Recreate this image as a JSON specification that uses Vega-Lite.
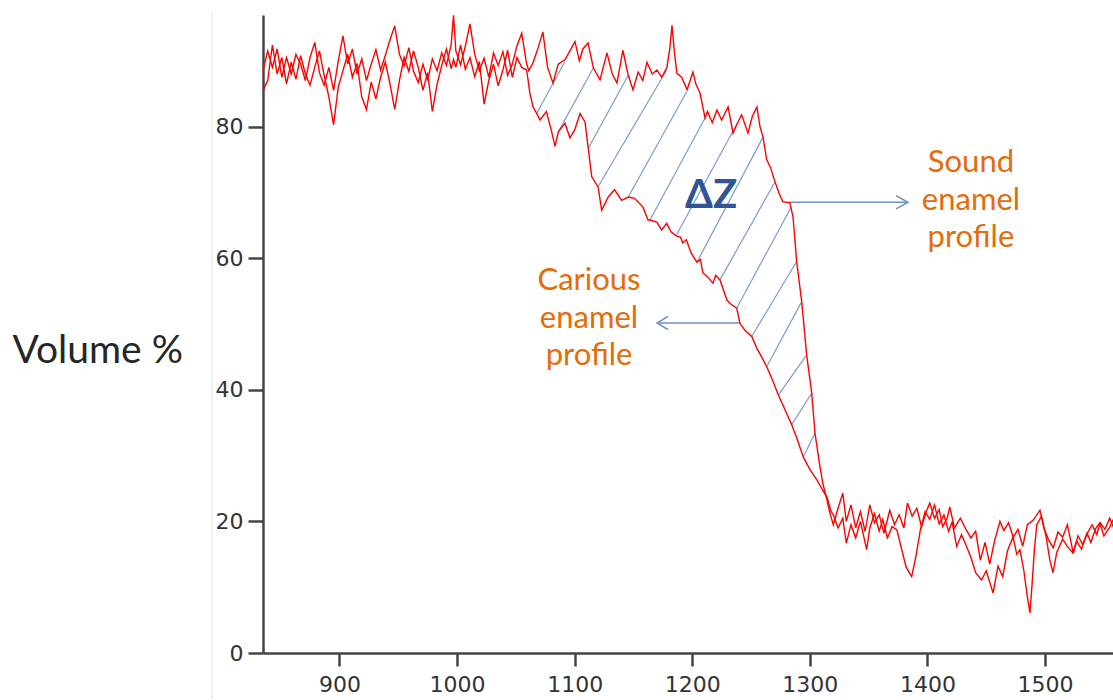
{
  "$schema": "https://vega.github.io/schema/vega-lite/v6.json",
  "width": 850,
  "height": 638,
  "autosize": {"type": "none"},
  "padding": {"left": 263, "top": 15, "right": 0, "bottom": 47},
  "background": "white",
  "config": {
    "view": {"stroke": null},
    "axis": {"domainColor": "#444444", "domainWidth": 2.5, "tickColor": "#444444", "tickWidth": 2.5, "labelColor": "#333333", "labelFont": "DejaVu Sans", "grid": false}
  },
  "datasets": {
    "curves": [
      {"x":835,"y":88.5,"k":"s"},{"x":839,"y":91.5,"k":"s"},{"x":843,"y":89,"k":"s"},{"x":847,"y":91.8,"k":"s"},{"x":851,"y":87.5,"k":"s"},{"x":855,"y":90.5,"k":"s"},{"x":859,"y":88,"k":"s"},{"x":863,"y":91,"k":"s"},{"x":867,"y":89.5,"k":"s"},{"x":871,"y":87,"k":"s"},{"x":875,"y":90.5,"k":"s"},{"x":879,"y":92.8,"k":"s"},{"x":883,"y":88.2,"k":"s"},{"x":887,"y":86.3,"k":"s"},{"x":891,"y":89,"k":"s"},{"x":895,"y":85.5,"k":"s"},{"x":899,"y":90,"k":"s"},{"x":903,"y":93.8,"k":"s"},{"x":907,"y":89.5,"k":"s"},{"x":911,"y":91.8,"k":"s"},{"x":915,"y":88,"k":"s"},{"x":919,"y":90.3,"k":"s"},{"x":923,"y":87,"k":"s"},{"x":927,"y":89.5,"k":"s"},{"x":931,"y":91.7,"k":"s"},{"x":935,"y":88.6,"k":"s"},{"x":939,"y":90.8,"k":"s"},{"x":943,"y":93.2,"k":"s"},{"x":947,"y":95.3,"k":"s"},{"x":951,"y":91,"k":"s"},{"x":955,"y":89.2,"k":"s"},{"x":959,"y":92,"k":"s"},{"x":963,"y":88.4,"k":"s"},{"x":967,"y":86.7,"k":"s"},{"x":971,"y":89.5,"k":"s"},{"x":975,"y":87,"k":"s"},{"x":979,"y":90.3,"k":"s"},{"x":983,"y":88.5,"k":"s"},{"x":987,"y":91.2,"k":"s"},{"x":991,"y":89.3,"k":"s"},{"x":995,"y":92.5,"k":"s"},{"x":997,"y":96.9,"k":"s"},{"x":999,"y":91.5,"k":"s"},{"x":1003,"y":89.4,"k":"s"},{"x":1007,"y":92.2,"k":"s"},{"x":1011,"y":95.6,"k":"s"},{"x":1015,"y":91,"k":"s"},{"x":1019,"y":88.5,"k":"s"},{"x":1023,"y":90.4,"k":"s"},{"x":1027,"y":87.5,"k":"s"},{"x":1031,"y":91.2,"k":"s"},{"x":1035,"y":89.3,"k":"s"},{"x":1039,"y":91.4,"k":"s"},{"x":1043,"y":87.8,"k":"s"},{"x":1047,"y":89.5,"k":"s"},{"x":1051,"y":92.3,"k":"s"},{"x":1055,"y":94.2,"k":"s"},{"x":1059,"y":89.7,"k":"s"},{"x":1061,"y":88.5,"k":"s"},{"x":1064.6,"y":89.7,"k":"s"},{"x":1069,"y":92,"k":"s"},{"x":1073,"y":94.4,"k":"s"},{"x":1077,"y":89,"k":"s"},{"x":1081.6,"y":86.6,"k":"s"},{"x":1086,"y":89.5,"k":"s"},{"x":1091.8,"y":90.2,"k":"s"},{"x":1096,"y":91.5,"k":"s"},{"x":1100.3,"y":92.9,"k":"s"},{"x":1104,"y":90,"k":"s"},{"x":1107,"y":91.8,"k":"s"},{"x":1111.4,"y":92.7,"k":"s"},{"x":1116,"y":88.9,"k":"s"},{"x":1121.6,"y":87.1,"k":"s"},{"x":1127.5,"y":91.2,"k":"s"},{"x":1132,"y":88,"k":"s"},{"x":1136,"y":86.6,"k":"s"},{"x":1141,"y":91.6,"k":"s"},{"x":1145.6,"y":87.8,"k":"s"},{"x":1149.6,"y":85.6,"k":"s"},{"x":1154,"y":88.3,"k":"s"},{"x":1158,"y":87,"k":"s"},{"x":1161.5,"y":89.8,"k":"s"},{"x":1166,"y":88,"k":"s"},{"x":1170,"y":88.6,"k":"s"},{"x":1174,"y":87.5,"k":"s"},{"x":1178.5,"y":89,"k":"s"},{"x":1181,"y":92,"k":"s"},{"x":1182.8,"y":95.4,"k":"s"},{"x":1185,"y":91,"k":"s"},{"x":1187,"y":88.1,"k":"s"},{"x":1191,"y":87.5,"k":"s"},{"x":1195.6,"y":85.6,"k":"s"},{"x":1200.6,"y":88.3,"k":"s"},{"x":1203,"y":86.5,"k":"s"},{"x":1206.6,"y":85.1,"k":"s"},{"x":1210.9,"y":81.3,"k":"s"},{"x":1213,"y":82.3,"k":"s"},{"x":1217,"y":80.6,"k":"s"},{"x":1221,"y":82.5,"k":"s"},{"x":1225,"y":81,"k":"s"},{"x":1230.5,"y":83,"k":"s"},{"x":1234.7,"y":79,"k":"s"},{"x":1238.9,"y":80.7,"k":"s"},{"x":1242,"y":81.8,"k":"s"},{"x":1247.4,"y":79,"k":"s"},{"x":1251,"y":81.5,"k":"s"},{"x":1255,"y":83,"k":"s"},{"x":1257.6,"y":80,"k":"s"},{"x":1260.2,"y":78.4,"k":"s"},{"x":1263.3,"y":75,"k":"s"},{"x":1266.5,"y":73.8,"k":"s"},{"x":1270.4,"y":71.6,"k":"s"},{"x":1274,"y":69.8,"k":"s"},{"x":1277,"y":68.6,"k":"s"},{"x":1283,"y":68.4,"k":"s"},{"x":1285.7,"y":66.3,"k":"s"},{"x":1288.8,"y":59.5,"k":"s"},{"x":1293.1,"y":53.4,"k":"s"},{"x":1297.3,"y":45.3,"k":"s"},{"x":1301.6,"y":39.5,"k":"s"},{"x":1304.4,"y":33.4,"k":"s"},{"x":1308,"y":29,"k":"s"},{"x":1311,"y":25.8,"k":"s"},{"x":1314,"y":23.7,"k":"s"},{"x":1317,"y":21.3,"k":"s"},
      {"x":1320,"y":19.5,"k":"s"},{"x":1324,"y":22,"k":"s"},{"x":1328,"y":24.3,"k":"s"},{"x":1331,"y":20,"k":"s"},{"x":1335,"y":22.5,"k":"s"},{"x":1339,"y":19,"k":"s"},{"x":1343,"y":21.5,"k":"s"},{"x":1347,"y":18.5,"k":"s"},{"x":1351,"y":22.5,"k":"s"},{"x":1355,"y":19.8,"k":"s"},{"x":1359,"y":21,"k":"s"},{"x":1363,"y":18.2,"k":"s"},{"x":1368,"y":21.7,"k":"s"},{"x":1372,"y":19.5,"k":"s"},{"x":1376,"y":21,"k":"s"},{"x":1380,"y":19,"k":"s"},{"x":1383,"y":22.8,"k":"s"},{"x":1387,"y":20.8,"k":"s"},{"x":1391,"y":22,"k":"s"},{"x":1395,"y":19.2,"k":"s"},{"x":1399,"y":21.5,"k":"s"},{"x":1402,"y":22.8,"k":"s"},{"x":1406,"y":20.5,"k":"s"},{"x":1410,"y":21.8,"k":"s"},{"x":1413,"y":19.2,"k":"s"},{"x":1417,"y":20.6,"k":"s"},{"x":1419,"y":22.2,"k":"s"},{"x":1423,"y":19,"k":"s"},{"x":1428,"y":20.5,"k":"s"},{"x":1433,"y":18.7,"k":"s"},{"x":1437,"y":17.5,"k":"s"},{"x":1441,"y":18.5,"k":"s"},{"x":1445,"y":14.1,"k":"s"},{"x":1449,"y":16.8,"k":"s"},{"x":1453,"y":13.5,"k":"s"},{"x":1457,"y":17,"k":"s"},{"x":1461.7,"y":20,"k":"s"},{"x":1465,"y":18.6,"k":"s"},{"x":1469,"y":19.8,"k":"s"},{"x":1473,"y":17.6,"k":"s"},{"x":1477,"y":18.8,"k":"s"},{"x":1481,"y":16.2,"k":"s"},{"x":1485,"y":19.5,"k":"s"},{"x":1490,"y":20.2,"k":"s"},{"x":1495.7,"y":21.7,"k":"s"},{"x":1499,"y":19,"k":"s"},{"x":1503,"y":17.2,"k":"s"},{"x":1507,"y":16,"k":"s"},{"x":1511,"y":18.4,"k":"s"},{"x":1515,"y":17.6,"k":"s"},{"x":1519,"y":19.5,"k":"s"},{"x":1524,"y":15.2,"k":"s"},{"x":1528,"y":17.8,"k":"s"},{"x":1532,"y":16.5,"k":"s"},{"x":1536,"y":18.2,"k":"s"},{"x":1540,"y":19.5,"k":"s"},{"x":1544,"y":18,"k":"s"},{"x":1547,"y":19.8,"k":"s"},{"x":1551,"y":18.8,"k":"s"},{"x":1555,"y":20.5,"k":"s"},{"x":1558,"y":19.2,"k":"s"},
      {"x":835,"y":85.5,"k":"c"},{"x":839,"y":87,"k":"c"},{"x":843,"y":92.4,"k":"c"},{"x":847,"y":88,"k":"c"},{"x":851,"y":90.5,"k":"c"},{"x":855,"y":86.5,"k":"c"},{"x":859,"y":89.8,"k":"c"},{"x":863,"y":87.2,"k":"c"},{"x":867,"y":90.8,"k":"c"},{"x":871,"y":88,"k":"c"},{"x":875,"y":86.3,"k":"c"},{"x":879,"y":89,"k":"c"},{"x":883,"y":91.5,"k":"c"},{"x":887,"y":87.8,"k":"c"},{"x":891,"y":84.5,"k":"c"},{"x":895,"y":80.3,"k":"c"},{"x":899,"y":86,"k":"c"},{"x":903,"y":88.5,"k":"c"},{"x":907,"y":91,"k":"c"},{"x":911,"y":87.5,"k":"c"},{"x":915,"y":89.6,"k":"c"},{"x":919,"y":84.5,"k":"c"},{"x":923,"y":82.6,"k":"c"},{"x":927,"y":86.8,"k":"c"},{"x":931,"y":84.2,"k":"c"},{"x":935,"y":87.5,"k":"c"},{"x":939,"y":89.8,"k":"c"},{"x":943,"y":86.5,"k":"c"},{"x":947,"y":82.6,"k":"c"},{"x":951,"y":87,"k":"c"},{"x":955,"y":90.5,"k":"c"},{"x":959,"y":88.4,"k":"c"},{"x":963,"y":91.5,"k":"c"},{"x":967,"y":89,"k":"c"},{"x":971,"y":85.5,"k":"c"},{"x":975,"y":88.2,"k":"c"},{"x":979,"y":82.3,"k":"c"},{"x":983,"y":86.4,"k":"c"},{"x":987,"y":89.3,"k":"c"},{"x":991,"y":91.8,"k":"c"},{"x":995,"y":88.8,"k":"c"},{"x":997,"y":90.2,"k":"c"},{"x":999,"y":89,"k":"c"},{"x":1003,"y":92.4,"k":"c"},{"x":1007,"y":88.7,"k":"c"},{"x":1011,"y":90.5,"k":"c"},{"x":1015,"y":87.6,"k":"c"},{"x":1019,"y":89.9,"k":"c"},{"x":1023,"y":83.4,"k":"c"},{"x":1027,"y":87,"k":"c"},{"x":1031,"y":89.5,"k":"c"},{"x":1035,"y":86.2,"k":"c"},{"x":1039,"y":88.6,"k":"c"},{"x":1043,"y":91.6,"k":"c"},{"x":1047,"y":87.5,"k":"c"},{"x":1051,"y":90.5,"k":"c"},{"x":1055,"y":89,"k":"c"},{"x":1059.2,"y":88.6,"k":"c"},{"x":1062,"y":85,"k":"c"},{"x":1064.6,"y":83,"k":"c"},{"x":1067.7,"y":82,"k":"c"},{"x":1070.5,"y":81,"k":"c"},{"x":1076,"y":82.3,"k":"c"},{"x":1080.5,"y":79.2,"k":"c"},{"x":1083.3,"y":77,"k":"c"},{"x":1086.1,"y":79.2,"k":"c"},{"x":1091.8,"y":80.5,"k":"c"},{"x":1096,"y":78.3,"k":"c"},{"x":1100,"y":79.5,"k":"c"},{"x":1104.6,"y":82,"k":"c"},{"x":1108.8,"y":80.7,"k":"c"},{"x":1111.6,"y":76.7,"k":"c"},{"x":1114.5,"y":72.4,"k":"c"},{"x":1120,"y":70.8,"k":"c"},{"x":1123,"y":67.3,"k":"c"},{"x":1128.6,"y":69.3,"k":"c"},{"x":1134,"y":70.4,"k":"c"},{"x":1140,"y":68.8,"k":"c"},{"x":1145.6,"y":69.3,"k":"c"},{"x":1151,"y":69.1,"k":"c"},{"x":1158,"y":67.8,"k":"c"},{"x":1162.4,"y":65.8,"k":"c"},{"x":1164.1,"y":65.8,"k":"c"},{"x":1169.8,"y":65.5,"k":"c"},{"x":1174,"y":64.3,"k":"c"},{"x":1178.3,"y":65.3,"k":"c"},{"x":1182,"y":64,"k":"c"},{"x":1186.2,"y":63.4,"k":"c"},{"x":1190,"y":63.2,"k":"c"},{"x":1192,"y":62.3,"k":"c"},{"x":1195,"y":62.8,"k":"c"},{"x":1199,"y":60.8,"k":"c"},{"x":1204,"y":59.4,"k":"c"},{"x":1207,"y":59.8,"k":"c"},{"x":1209,"y":57.8,"k":"c"},{"x":1213,"y":57.2,"k":"c"},{"x":1217.6,"y":56.2,"k":"c"},{"x":1220,"y":57.4,"k":"c"},{"x":1223.6,"y":56.7,"k":"c"},{"x":1229.6,"y":53.6,"k":"c"},{"x":1233,"y":53,"k":"c"},{"x":1237.8,"y":52.4,"k":"c"},{"x":1240.6,"y":50.1,"k":"c"},{"x":1245,"y":49,"k":"c"},{"x":1250.6,"y":48.1,"k":"c"},{"x":1255,"y":46.3,"k":"c"},{"x":1259,"y":45,"k":"c"},{"x":1263.3,"y":43.5,"k":"c"},{"x":1268,"y":41.6,"k":"c"},{"x":1273.2,"y":39.2,"k":"c"},{"x":1278,"y":37.3,"k":"c"},{"x":1284.6,"y":34.7,"k":"c"},{"x":1289,"y":32.6,"k":"c"},{"x":1294.4,"y":29.8,"k":"c"},{"x":1300,"y":27.9,"k":"c"},{"x":1306,"y":26.3,"k":"c"},{"x":1310,"y":25,"k":"c"},{"x":1314.6,"y":23.7,"k":"c"},{"x":1318,"y":21.5,"k":"c"},
      {"x":1320,"y":21,"k":"c"},{"x":1324,"y":19,"k":"c"},{"x":1328,"y":20.5,"k":"c"},{"x":1331,"y":16.7,"k":"c"},{"x":1335,"y":19.5,"k":"c"},{"x":1339,"y":17.5,"k":"c"},{"x":1343,"y":20,"k":"c"},{"x":1348.3,"y":15.7,"k":"c"},{"x":1351,"y":19,"k":"c"},{"x":1355,"y":21.2,"k":"c"},{"x":1359,"y":18.5,"k":"c"},{"x":1362,"y":20.3,"k":"c"},{"x":1366,"y":17.5,"k":"c"},{"x":1370,"y":19.2,"k":"c"},{"x":1374,"y":18.7,"k":"c"},{"x":1378,"y":15.8,"k":"c"},{"x":1382,"y":13,"k":"c"},{"x":1386.6,"y":11.6,"k":"c"},{"x":1390,"y":14.5,"k":"c"},{"x":1394,"y":18.7,"k":"c"},{"x":1398,"y":21.5,"k":"c"},{"x":1402,"y":20.3,"k":"c"},{"x":1406,"y":22.5,"k":"c"},{"x":1410,"y":19.6,"k":"c"},{"x":1414,"y":21,"k":"c"},{"x":1418,"y":18.5,"k":"c"},{"x":1421,"y":19.9,"k":"c"},{"x":1424.9,"y":16.2,"k":"c"},{"x":1429,"y":18,"k":"c"},{"x":1433,"y":16.3,"k":"c"},{"x":1437,"y":14.5,"k":"c"},{"x":1441,"y":12.2,"k":"c"},{"x":1446,"y":11.1,"k":"c"},{"x":1450,"y":12.5,"k":"c"},{"x":1455.8,"y":9.1,"k":"c"},{"x":1460,"y":13.2,"k":"c"},{"x":1464,"y":11.6,"k":"c"},{"x":1468,"y":15.5,"k":"c"},{"x":1472.8,"y":17.6,"k":"c"},{"x":1476,"y":15,"k":"c"},{"x":1478.7,"y":15.7,"k":"c"},{"x":1482,"y":12.5,"k":"c"},{"x":1485,"y":8.5,"k":"c"},{"x":1487.2,"y":6.1,"k":"c"},{"x":1489,"y":10.5,"k":"c"},{"x":1491,"y":15.8,"k":"c"},{"x":1493,"y":19.5,"k":"c"},{"x":1497,"y":20.8,"k":"c"},{"x":1501,"y":17.6,"k":"c"},{"x":1504,"y":14.2,"k":"c"},{"x":1506.8,"y":12.2,"k":"c"},{"x":1510,"y":15.3,"k":"c"},{"x":1515,"y":17.3,"k":"c"},{"x":1519,"y":16.2,"k":"c"},{"x":1523.8,"y":15.2,"k":"c"},{"x":1527,"y":17,"k":"c"},{"x":1531,"y":15.8,"k":"c"},{"x":1535.7,"y":18.2,"k":"c"},{"x":1539,"y":16.8,"k":"c"},{"x":1543,"y":18.9,"k":"c"},{"x":1546.7,"y":19.8,"k":"c"},{"x":1550,"y":17.8,"k":"c"},{"x":1555,"y":19.1,"k":"c"},{"x":1558,"y":20.3,"k":"c"}
    ],
    "hatch": [
      {"h":0,"x":1067.7,"y":82.0},{"h":0,"x":1091.8,"y":89.9},
      {"h":1,"x":1086.1,"y":79.2},{"h":1,"x":1115.9,"y":88.9},
      {"h":2,"x":1111.6,"y":76.7},{"h":2,"x":1145.6,"y":87.8},
      {"h":3,"x":1120.1,"y":70.9},{"h":3,"x":1178.3,"y":88.6},
      {"h":4,"x":1145.6,"y":69.3},{"h":4,"x":1195.3,"y":85.3},
      {"h":5,"x":1164.1,"y":65.8},{"h":5,"x":1210.9,"y":81.3},
      {"h":6,"x":1186.2,"y":63.4},{"h":6,"x":1238.9,"y":80.7},
      {"h":7,"x":1204.0,"y":59.4},{"h":7,"x":1260.2,"y":78.4},
      {"h":8,"x":1223.6,"y":56.7},{"h":8,"x":1270.4,"y":71.6},
      {"h":9,"x":1237.8,"y":52.4},{"h":9,"x":1284.0,"y":67.7},
      {"h":10,"x":1250.6,"y":48.1},{"h":10,"x":1288.8,"y":59.5},
      {"h":11,"x":1263.3,"y":43.5},{"h":11,"x":1293.1,"y":53.4},
      {"h":12,"x":1273.2,"y":39.2},{"h":12,"x":1297.3,"y":45.3},
      {"h":13,"x":1284.6,"y":34.7},{"h":13,"x":1301.6,"y":39.5},
      {"h":14,"x":1294.4,"y":29.8},{"h":14,"x":1304.4,"y":33.4}
    ],
    "arrows": [
      {"g":"s1","o":0,"x":1281.4,"y":68.5},{"g":"s1","o":1,"x":1383.5,"y":68.5},
      {"g":"s2","o":0,"x":1373.3,"y":69.5},{"g":"s2","o":1,"x":1383.5,"y":68.5},{"g":"s2","o":2,"x":1373.3,"y":67.5},
      {"g":"c1","o":0,"x":1170.0,"y":50.15},{"g":"c1","o":1,"x":1240.6,"y":50.15},
      {"g":"c2","o":0,"x":1179.5,"y":51.15},{"g":"c2","o":1,"x":1170.0,"y":50.15},{"g":"c2","o":2,"x":1179.5,"y":49.15}
    ]
  },
  "encoding": {
    "x": {"field": "x", "type": "quantitative", "scale": {"domain": [835, 1557.8], "nice": false, "zero": false},
      "axis": {"values": [900, 1000, 1100, 1200, 1300, 1400, 1500], "format": "d", "tickSize": 13, "labelPadding": 8, "labelFontSize": 22, "title": null}},
    "y": {"field": "y", "type": "quantitative", "scale": {"domain": [0, 96.96], "nice": false, "zero": false},
      "axis": {"values": [0, 20, 40, 60, 80], "format": "d", "tickSize": 15, "labelPadding": 5, "labelFontSize": 22,
        "title": "Volume %", "titleAngle": 0, "titleAlign": "left", "titleBaseline": "middle", "titleX": -251, "titleY": 335,
        "titleFont": "Lato", "titleFontSize": 39, "titleFontWeight": "normal", "titleColor": "#262626"}}
  },
  "layer": [
    {
      "data": {"values": [{"x": 791.6, "y": 97.3, "y2": -7}]},
      "mark": {"type": "rule", "color": "#e2e2e2", "strokeWidth": 1},
      "encoding": {"y2": {"field": "y2"}}
    },
    {
      "data": {"name": "hatch"},
      "mark": {"type": "line", "color": "#7b9dcb", "strokeWidth": 1.2},
      "encoding": {"detail": {"field": "h", "type": "nominal"}}
    },
    {
      "data": {"name": "arrows"},
      "mark": {"type": "line", "color": "#6e91c6", "strokeWidth": 1.5},
      "encoding": {"detail": {"field": "g", "type": "nominal"}, "order": {"field": "o", "type": "quantitative"}}
    },
    {
      "data": {"name": "curves"},
      "mark": {"type": "line", "color": "#ff0000", "strokeWidth": 1.4},
      "encoding": {"detail": {"field": "k", "type": "nominal"}}
    },
    {
      "data": {"values": [{"x": 1216, "y": 67.6, "t": "ΔZ"}]},
      "mark": {"type": "text", "font": "Lato", "fontSize": 40, "fontWeight": "bold", "color": "#2f5597", "align": "center", "baseline": "alphabetic"},
      "encoding": {"text": {"field": "t"}}
    },
    {
      "data": {"values": [
        {"x": 1437, "y": 73.1, "t": "Sound"}, {"x": 1437, "y": 67.4, "t": "enamel"}, {"x": 1437, "y": 61.7, "t": "profile"},
        {"x": 1112.2, "y": 55.2, "t": "Carious"}, {"x": 1112.2, "y": 49.4, "t": "enamel"}, {"x": 1112.2, "y": 43.8, "t": "profile"}
      ]},
      "mark": {"type": "text", "font": "Lato", "fontSize": 31, "color": "#e46c0a", "align": "center", "baseline": "alphabetic"},
      "encoding": {"text": {"field": "t"}}
    }
  ]
}
